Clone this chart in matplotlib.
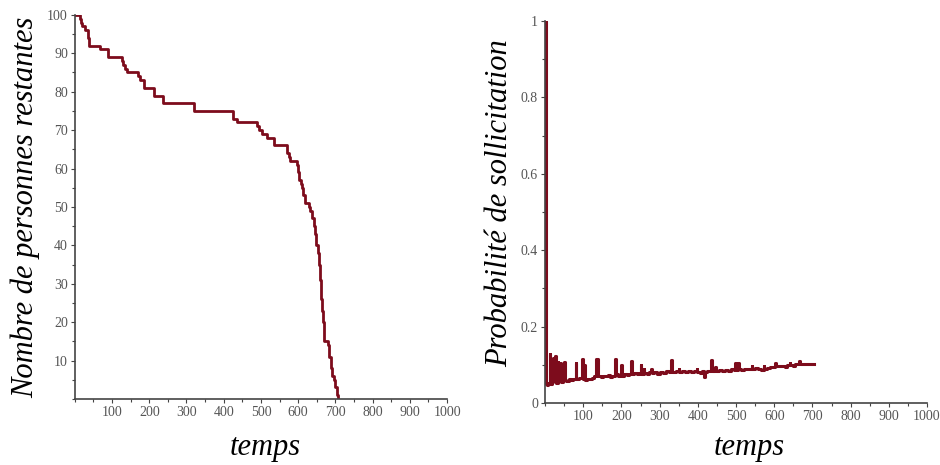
import matplotlib.pyplot as plt
from matplotlib.ticker import MultipleLocator, FixedLocator

# nombre de personnes restantes (steps)
rest_t = [0, 14, 17, 20, 27, 36, 39, 68, 90, 126, 130, 135, 140, 171, 176, 186, 213,
          238, 321, 426, 435, 489, 495, 502, 516, 534, 571, 575, 578, 596, 600, 603,
          607, 610, 614, 619, 630, 633, 638, 642, 645, 648, 652, 655, 658, 661, 664,
          666, 670, 680, 684, 688, 690, 695, 699, 705, 708]
rest_v = [100, 99, 98, 97, 96, 94, 92, 91, 89, 88, 87, 86, 85, 84, 83, 81, 79,
          77, 75, 73, 72, 71, 70, 69, 68, 66, 64, 63, 62, 61, 59, 57,
          56, 55, 53, 51, 50, 49, 47, 45, 43, 40, 38, 35, 31, 26, 23,
          20, 15, 14, 11, 8, 6, 5, 3, 1, 0]

# probabilite de sollicitation (steps)
prob_t = [0, 2, 5, 8, 12, 14, 18, 22, 24, 26, 30, 33, 35, 40, 42, 46, 50, 52, 56, 62,
          68, 74, 80, 82, 88, 96, 99, 103, 105, 110, 116, 122, 128, 134, 140, 146,
          152, 158, 164, 170, 176, 182, 185, 190, 196, 200, 202, 208, 214, 220, 226,
          228, 234, 240, 246, 250, 252, 258, 260, 266, 272, 278, 280, 286, 292, 300,
          308, 316, 324, 330, 332, 338, 344, 350, 352, 358, 366, 374, 382, 390, 397,
          399, 405, 412, 416, 418, 424, 430, 434, 437, 442, 446, 448, 455, 462, 470,
          478, 486, 494, 498, 500, 506, 508, 514, 520, 528, 536, 541, 543, 550, 558,
          566, 572, 574, 580, 588, 596, 603, 605, 612, 620, 628, 634, 640, 642, 648,
          655, 664, 667, 675, 703]
prob_v = [1.0, 0.05, 0.048, 0.052, 0.128, 0.05, 0.055, 0.118, 0.06, 0.122, 0.052,
          0.108, 0.058, 0.105, 0.055, 0.06, 0.108, 0.06, 0.058, 0.063, 0.06, 0.062,
          0.105, 0.062, 0.065, 0.115, 0.063, 0.1, 0.06, 0.064, 0.062, 0.066, 0.07,
          0.115, 0.07, 0.068, 0.072, 0.07, 0.073, 0.068, 0.072, 0.115, 0.075, 0.072,
          0.07, 0.1, 0.072, 0.075, 0.073, 0.076, 0.11, 0.075, 0.078, 0.076, 0.078,
          0.1, 0.076, 0.09, 0.078, 0.075, 0.08, 0.09, 0.078, 0.08, 0.077, 0.082,
          0.079, 0.083, 0.08, 0.112, 0.082, 0.08, 0.083, 0.09, 0.08, 0.083, 0.081,
          0.084, 0.08, 0.083, 0.09, 0.082, 0.079, 0.084, 0.068, 0.08, 0.083, 0.085,
          0.112, 0.085, 0.083, 0.095, 0.085, 0.086, 0.084, 0.087, 0.085, 0.088,
          0.086, 0.105, 0.087, 0.105, 0.088, 0.086, 0.09, 0.088, 0.09, 0.096, 0.089,
          0.091, 0.089, 0.086, 0.096, 0.09, 0.092, 0.094, 0.093, 0.105, 0.096, 0.098,
          0.097, 0.095, 0.099, 0.106, 0.1, 0.098, 0.101, 0.11, 0.102, 0.101, 0.101]

x_ticks = [100, 200, 300, 400, 500, 600, 700, 800, 900, 1000]
rest_ticks = [10, 20, 30, 40, 50, 60, 70, 80, 90, 100]
prob_ticks = [0, 0.2, 0.4, 0.6, 0.8, 1]
prob_labels = ['0', '0.2', '0.4', '0.6', '0.8', '1']

line_col = '#7d0c1c'
tick_col = '#555555'
spine_col = '#444444'
label_font = dict(family='Liberation Serif', style='italic', size=22, color='black')

fig = plt.figure(figsize=(9.4, 4.65), dpi=100)


def style_axes(ax):
    for s in ['top', 'right']:
        ax.spines[s].set_visible(False)
    for s in ['left', 'bottom']:
        ax.spines[s].set_color(spine_col)
        ax.spines[s].set_linewidth(1.2)
    ax.tick_params(which='major', direction='out', length=3, width=0.8,
                   color=spine_col, labelcolor=tick_col, labelsize=10, pad=2)
    ax.tick_params(which='minor', direction='out', length=2, width=0.8, color=spine_col)
    for lab in ax.get_xticklabels() + ax.get_yticklabels():
        lab.set_family('Liberation Serif')


ax1 = fig.add_axes([0.0796, 0.142, 0.396, 0.826])
ax1.plot(rest_t, rest_v, drawstyle='steps-post', color=line_col, lw=2)
ax1.set_xlim(0, 1000)
ax1.set_ylim(0, 100)
ax1.xaxis.set_major_locator(FixedLocator(x_ticks))
ax1.xaxis.set_minor_locator(MultipleLocator(50))
ax1.yaxis.set_major_locator(FixedLocator(rest_ticks))
ax1.yaxis.set_minor_locator(MultipleLocator(5))
style_axes(ax1)

ax2 = fig.add_axes([0.5798, 0.1333, 0.4064, 0.8215])
ax2.plot(prob_t, prob_v, drawstyle='steps-post', color=line_col, lw=2.2)
ax2.set_xlim(0, 1000)
ax2.set_ylim(0, 1)
ax2.xaxis.set_major_locator(FixedLocator(x_ticks))
ax2.xaxis.set_minor_locator(MultipleLocator(50))
ax2.set_yticks(prob_ticks)
ax2.set_yticklabels(prob_labels)
ax2.yaxis.set_minor_locator(MultipleLocator(0.1))
style_axes(ax2)

fig.text(25 / 940, 1 - 207 / 465, 'Nombre de personnes restantes', rotation=90,
         ha='center', va='center', **label_font)
fig.text(265 / 940, 1 - 447 / 465, 'temps', ha='center', va='center', **label_font)
fig.text(500 / 940, 1 - 203 / 465, 'Probabilité de sollicitation', rotation=90,
         ha='center', va='center', **label_font)
fig.text(749 / 940, 1 - 447 / 465, 'temps', ha='center', va='center', **label_font)

fig.savefig('out.png', dpi=100)
